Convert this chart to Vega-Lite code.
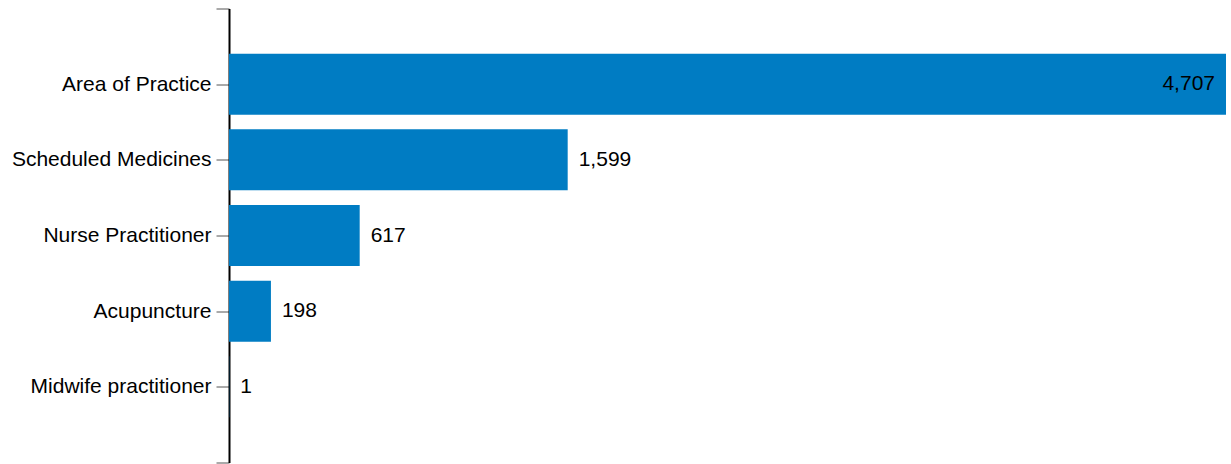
{
  "$schema": "https://vega.github.io/schema/vega-lite/v6.json",
  "autosize": {"type": "none"},
  "padding": {"left": 229, "top": 8.5, "right": 5, "bottom": 1.5},
  "width": 997,
  "height": 454,
  "background": "white",
  "data": {
    "values": [
      {"category": "Area of Practice", "count": 4707},
      {"category": "Scheduled Medicines", "count": 1599},
      {"category": "Nurse Practitioner", "count": 617},
      {"category": "Acupuncture", "count": 198},
      {"category": "Midwife practitioner", "count": 1}
    ]
  },
  "config": {"view": {"stroke": null}},
  "encoding": {
    "y": {
      "field": "category",
      "type": "nominal",
      "scale": {
        "type": "point",
        "padding": 0,
        "domain": ["padTop", "Area of Practice", "Scheduled Medicines", "Nurse Practitioner", "Acupuncture", "Midwife practitioner", "padBottom"]
      },
      "axis": {
        "title": null,
        "grid": false,
        "domainColor": "#000000",
        "domainWidth": 2,
        "tickColor": "#555555",
        "tickWidth": 1,
        "tickSize": 13,
        "labelPadding": 5,
        "labelLimit": 0,
        "labelFont": "Liberation Sans",
        "labelFontSize": 21,
        "labelColor": "#000000",
        "labelExpr": "datum.value == 'padTop' || datum.value == 'padBottom' ? '' : datum.value"
      }
    },
    "x": {
      "field": "count",
      "type": "quantitative",
      "scale": {"domain": [0, 4707], "nice": false},
      "axis": null
    }
  },
  "layer": [
    {
      "mark": {"type": "bar", "color": "#007CC3", "height": 61},
      "encoding": {}
    },
    {
      "transform": [{"filter": "datum.count > 4000"}],
      "mark": {"type": "text", "align": "right", "baseline": "middle", "dx": -11, "font": "Liberation Sans", "fontSize": 21, "color": "#000000"},
      "encoding": {"text": {"field": "count", "type": "quantitative", "format": ","}}
    },
    {
      "transform": [{"filter": "datum.count <= 4000"}],
      "mark": {"type": "text", "align": "left", "baseline": "middle", "dx": 11, "font": "Liberation Sans", "fontSize": 21, "color": "#000000"},
      "encoding": {"text": {"field": "count", "type": "quantitative", "format": ","}}
    }
  ]
}
